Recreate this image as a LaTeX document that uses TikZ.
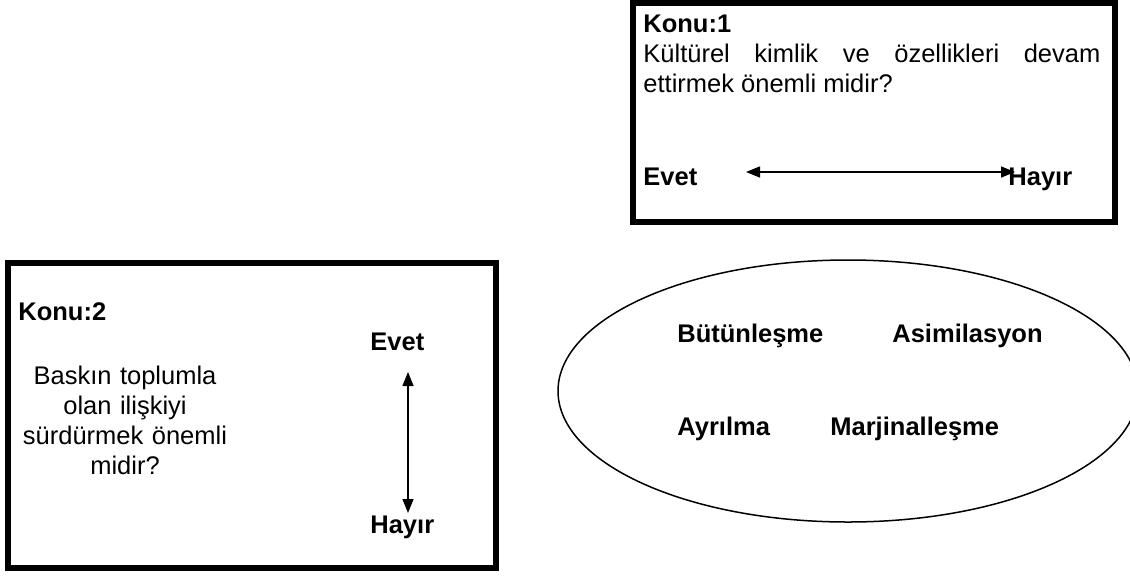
\documentclass[tikz,border=0pt]{standalone}
\usepackage{fontspec}
\setmainfont{Liberation Sans}
\usetikzlibrary{arrows.meta,shapes.geometric}
\hyphenpenalty=10000
\exhyphenpenalty=10000
\begin{document}
\begin{tikzpicture}[x=0.5pt,y=-0.5pt,
  frame/.style={draw, line width=3pt, rectangle, inner sep=0pt},
  oval/.style={draw, line width=0.75pt, ellipse, inner sep=0pt},
  lbl/.style={font=\fontsize{12.75}{15}\selectfont, inner sep=0pt},
  blbl/.style={font=\fontsize{12.75}{15}\selectfont\bfseries, inner sep=0pt},
  dbl/.style={{Triangle[length=7pt,width=5.5pt]}-{Triangle[length=7pt,width=5.5pt]}, line width=0.75pt}]
\useasboundingbox (0,0) rectangle (1130,579);
\fill[white] (0,0) rectangle (1130,579);
% top-right box (Konu 1)
\node[frame, minimum width=241pt, minimum height=109.5pt] (box1) at (874,112.5) {};
\node[blbl, anchor=base west] (k1) at (643,32) {Konu:1};
\node[lbl, anchor=base west, text width=228.5pt, align=justify] (q1) at (643,62)
  {\hyphenpenalty=10000 \tolerance=10000 Kültürel kimlik ve özellikleri devam ettirmek önemli midir?};
\node[blbl, anchor=base west] (e1) at (643,185) {Evet};
\node[blbl, anchor=base west] (h1) at (1008,185) {Hayır};
\coordinate (a1l) at (746,172);
\coordinate (a1r) at (1015,172);
\draw[dbl] (a1l) -- (a1r);
% left box (Konu 2)
\node[frame, minimum width=244pt, minimum height=152.5pt] (box2) at (252.4,415.9) {};
\node[blbl, anchor=base west] (k2) at (18,320) {Konu:2};
\node[font=\fontsize{12.75}{15.15}\selectfont, inner sep=0pt, anchor=base, text width=112pt, align=center] (q2) at (125,384)
  {Baskın toplumla\\olan ilişkiyi\\sürdürmek önemli\\midir?};
\node[blbl, anchor=base west] (e2) at (370,350) {Evet};
\node[blbl, anchor=base west] (h2) at (370,533) {Hayır};
\coordinate (a2t) at (408,372);
\coordinate (a2b) at (408,513);
\draw[dbl] (a2t) -- (a2b);
% ellipse
\node[oval, minimum width=290pt, minimum height=131pt] (ell) at (848,391) {};
\node[blbl, anchor=base west] (b) at (677,342) {Bütünleşme};
\node[blbl, anchor=base west] (as) at (892,342) {Asimilasyon};
\node[blbl, anchor=base west] (ay) at (677,435) {Ayrılma};
\node[blbl, anchor=base west] (m) at (830,435) {Marjinalleşme};
\end{tikzpicture}
\end{document}
